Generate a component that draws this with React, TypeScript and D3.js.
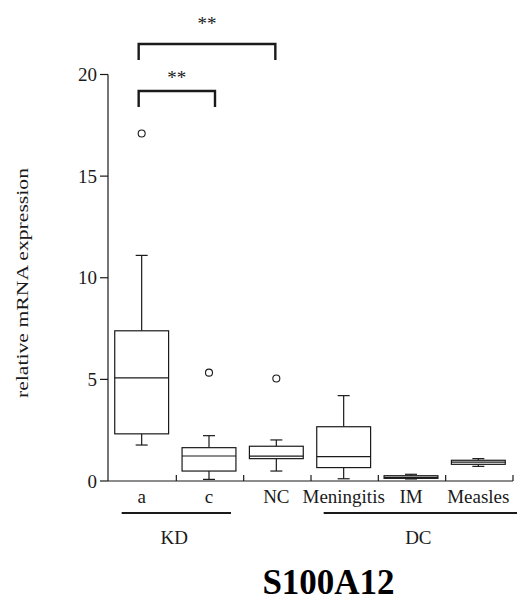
import React from "react";
import * as d3 from "d3";

const categories = ["a", "c", "NC", "Meningitis", "IM", "Measles"];
const whiskerLow = [1.77, 0.08, 0.49, 0.11, 0.1, 0.72];
const q1 = [2.32, 0.49, 1.1, 0.66, 0.13, 0.82];
const medians = [5.07, 1.23, 1.22, 1.2, 0.18, 0.93];
const q3 = [7.39, 1.64, 1.71, 2.67, 0.26, 1.02];
const whiskerHigh = [11.1, 2.23, 2.02, 4.2, 0.33, 1.1];
const outliers: [string, number][] = [
  ["a", 17.1],
  ["c", 5.33],
  ["NC", 5.04],
];
const yTicks = [0, 5, 10, 15, 20];
const groups = [
  { label: "KD", from: "a", to: "c" },
  { label: "DC", from: "Meningitis", to: "Measles" },
];
const brackets = [
  { from: "a", to: "c", label: "**", level: 0 },
  { from: "a", to: "NC", label: "**", level: 1 },
];
const title = "S100A12";
const yLabel = "relative mRNA expression";

export default function App() {
  const W = 519;
  const H = 603;
  const x = d3.scaleBand<string>().domain(categories).range([109, 513]).paddingInner(0).paddingOuter(0);
  const y = d3.scaleLinear().domain([0, 20]).range([481, 74.5]);
  const bw = x.bandwidth() * 0.8;
  const cx = (c: string) => (x(c) as number) + x.bandwidth() / 2 - 1;
  const ink = "#1a1a1a";
  const font = "'Liberation Serif', 'Times New Roman', serif";
  const capW = 12;

  return (
    <svg width={W} height={H} style={{ position: "absolute", left: 0, top: 0, background: "#fff" }} fontFamily={font}>
      {/* y axis */}
      <line x1={108} x2={108} y1={y(20)} y2={y(0)} stroke={ink} strokeWidth={1.2} />
      {yTicks.map((t) => (
        <g key={t}>
          <line x1={100} x2={108} y1={y(t)} y2={y(t)} stroke={ink} strokeWidth={1.2} />
          <text x={97} y={y(t)} dy="0.35em" textAnchor="end" fontSize={19} fontFamily={font} fill={ink}>
            {t}
          </text>
        </g>
      ))}
      <text
        transform={`translate(28, ${283}) rotate(-90)`}
        textAnchor="middle"
        fontSize={17}
        fontFamily={font}
        textLength={230}
        lengthAdjust="spacingAndGlyphs"
        fill={ink}
      >
        {yLabel}
      </text>
      {/* x axis */}
      <line x1={108} x2={513} y1={y(0)} y2={y(0)} stroke={ink} strokeWidth={1.2} />
      {categories.map((c) => (
        <line
          key={"t" + c}
          x1={(x(c) as number) + x.bandwidth()}
          x2={(x(c) as number) + x.bandwidth()}
          y1={y(0)}
          y2={y(0) - 6}
          stroke={ink}
          strokeWidth={1.2}
        />
      ))}
      {categories.map((c) => (
        <text key={"l" + c} x={cx(c)} y={503} textAnchor="middle" fontSize={19} fontFamily={font} fill={ink}>
          {c}
        </text>
      ))}
      {/* boxes */}
      {categories.map((c, i) => {
        const xc = cx(c);
        return (
          <g key={"b" + c} stroke={ink} strokeWidth={1.2} fill="none">
            <line x1={xc} x2={xc} y1={y(q3[i])} y2={y(whiskerHigh[i])} />
            <line x1={xc} x2={xc} y1={y(q1[i])} y2={y(whiskerLow[i])} />
            <line x1={xc - capW / 2} x2={xc + capW / 2} y1={y(whiskerHigh[i])} y2={y(whiskerHigh[i])} />
            <line x1={xc - capW / 2} x2={xc + capW / 2} y1={y(whiskerLow[i])} y2={y(whiskerLow[i])} />
            <rect x={xc - bw / 2} y={y(q3[i])} width={bw} height={y(q1[i]) - y(q3[i])} fill="#fff" />
            <line x1={xc - bw / 2} x2={xc + bw / 2} y1={y(medians[i])} y2={y(medians[i])} />
          </g>
        );
      })}
      {outliers.map(([c, v], i) => (
        <circle key={"o" + i} cx={cx(c)} cy={y(v)} r={3.5} fill="none" stroke={ink} strokeWidth={1.1} />
      ))}
      {/* group lines */}
      {groups.map((g) => {
        const x1 = cx(g.from) - 20;
        const x2 = g.to === "Measles" ? 517 : cx(g.to) + 22;
        return (
          <g key={g.label}>
            <line x1={x1} x2={x2} y1={513} y2={513} stroke={ink} strokeWidth={2.2} />
            <text x={(x1 + x2) / 2 - 2} y={544} textAnchor="middle" fontSize={19} fontFamily={font} fill={ink}>
              {g.label}
            </text>
          </g>
        );
      })}
      {/* significance brackets */}
      {brackets.map((b, i) => {
        const x1 = cx(b.from) - 3;
        const x2 = b.level === 0 ? cx(b.to) + 6 : cx(b.to) - 1;
        const top = b.level === 0 ? 91 : 44;
        return (
          <g key={"br" + i}>
            <path
              d={`M${x1},${top + 16}V${top}H${x2}V${top + 16}`}
              fill="none"
              stroke={ink}
              strokeWidth={2.4}
            />
            <text
              x={(x1 + x2) / 2}
              y={top - 7 - (b.level === 0 ? 0 : 7)}
              textAnchor="middle"
              fontSize={19}
              fontFamily={font}
              fill={ink}
            >
              {b.label}
            </text>
          </g>
        );
      })}
      <text x={328.5} y={594} textAnchor="middle" fontSize={35} fontWeight="bold" fontFamily={font} fill="#000">
        {title}
      </text>
    </svg>
  );
}
